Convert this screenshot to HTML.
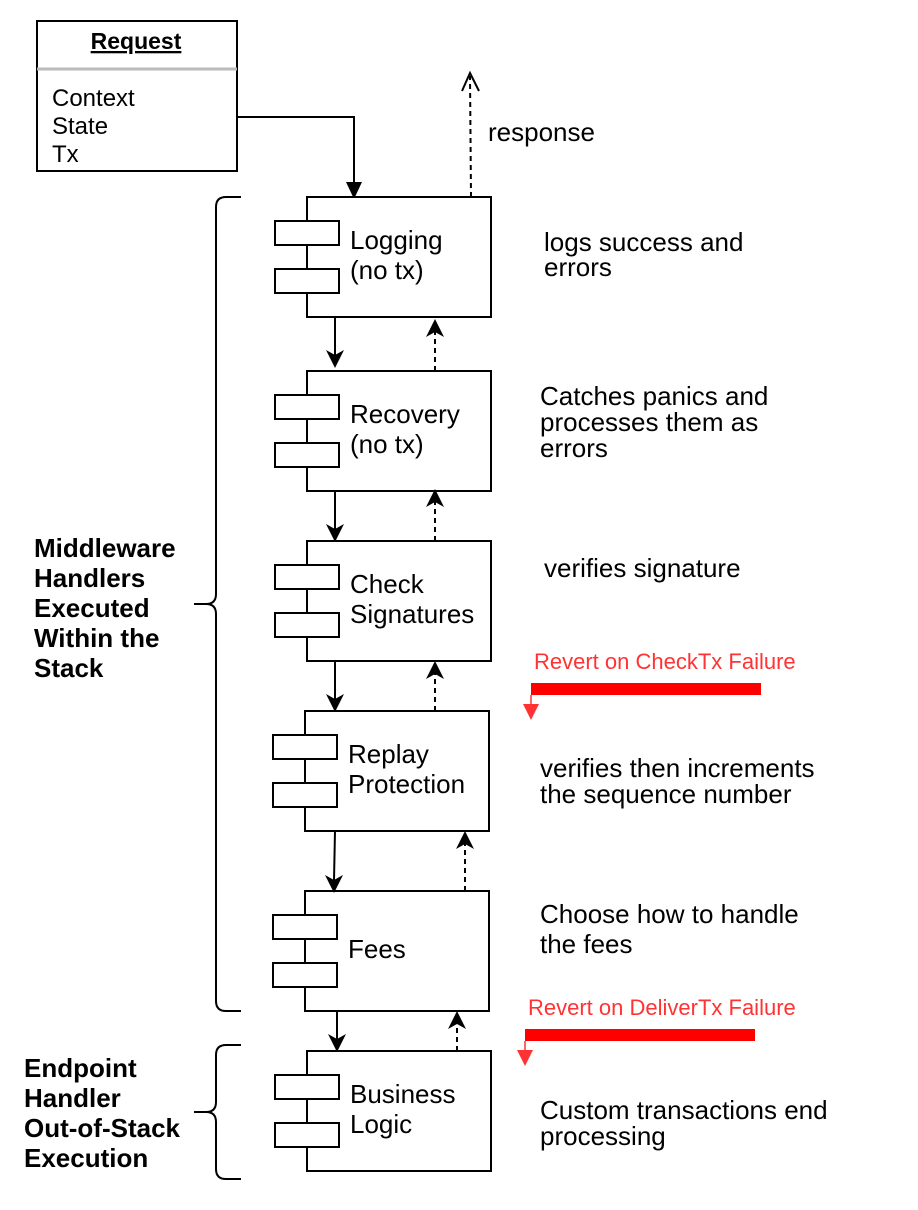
<!DOCTYPE html>
<html><head><meta charset="utf-8"><style>
html,body{margin:0;padding:0;background:#fff;}
svg{display:block;font-family:"Liberation Sans",Arial,sans-serif;}
</style></head><body>
<svg width="918" height="1210" viewBox="0 0 918 1210" xmlns="http://www.w3.org/2000/svg">
<rect width="918" height="1210" fill="#fff"/>
<rect x="37" y="21" width="200" height="150" fill="#fff" stroke="#000" stroke-width="2"/>
<line x1="37" y1="69" x2="237" y2="69" stroke="#bbb" stroke-width="3"/>
<text x="136" y="49" font-size="23" font-weight="bold" text-anchor="middle" text-decoration="underline">Request</text>
<text font-size="24" x="52"><tspan x="52" y="106">Context</tspan><tspan x="52" y="134">State</tspan><tspan x="52" y="162">Tx</tspan></text>
<polyline points="237,117 354,117 354,185" fill="none" stroke="#000" stroke-width="2"/>
<path d="M346,182 L362,182 L354,199 Z" fill="#000"/>
<line x1="471" y1="197" x2="470" y2="76" stroke="#000" stroke-width="2" stroke-dasharray="5,4"/>
<path d="M462,91 L470,73 L479,91" fill="none" stroke="#000" stroke-width="2"/>
<text x="488" y="141" font-size="26">response</text>

<g stroke="#000" stroke-width="2" fill="#fff">
<rect x="307" y="197" width="184" height="120"/><rect x="275" y="221" width="64" height="24"/><rect x="275" y="269" width="64" height="24"/>
<rect x="307" y="371" width="184" height="120"/><rect x="275" y="395" width="64" height="24"/><rect x="275" y="443" width="64" height="24"/>
<rect x="307" y="541" width="184" height="120"/><rect x="275" y="565" width="64" height="24"/><rect x="275" y="613" width="64" height="24"/>
<rect x="305" y="711" width="184" height="120"/><rect x="273" y="735" width="64" height="24"/><rect x="273" y="783" width="64" height="24"/>
<rect x="305" y="891" width="184" height="120"/><rect x="273" y="915" width="64" height="24"/><rect x="273" y="963" width="64" height="24"/>
<rect x="307" y="1051" width="184" height="120"/><rect x="275" y="1075" width="64" height="24"/><rect x="275" y="1123" width="64" height="24"/>
</g>
<g font-size="26">
<text x="350" y="249">Logging</text><text x="350" y="279">(no tx)</text>
<text x="350" y="423">Recovery</text><text x="350" y="453">(no tx)</text>
<text x="350" y="593">Check</text><text x="350" y="623">Signatures</text>
<text x="348" y="763">Replay</text><text x="348" y="793">Protection</text>
<text x="348" y="958">Fees</text>
<text x="350" y="1103">Business</text><text x="350" y="1133">Logic</text>
</g>
<g stroke="#000" stroke-width="2">
<line x1="335" y1="317" x2="335" y2="356"/>
<line x1="335" y1="491" x2="335" y2="530"/>
<line x1="335" y1="661" x2="335" y2="700"/>
<line x1="335" y1="831" x2="334" y2="880"/>
<line x1="337" y1="1011" x2="337" y2="1040"/>
</g>
<g fill="#000">
<path d="M326,350 L335,368 L344,350 L335,355 Z"/>
<path d="M326,524 L335,542 L344,524 L335,529 Z"/>
<path d="M326,694 L335,712 L344,694 L335,699 Z"/>
<path d="M325,875 L334,893 L343,875 L334,880 Z"/>
<path d="M328,1034 L337,1052 L346,1034 L337,1039 Z"/>
</g>
<g stroke="#000" stroke-width="2" stroke-dasharray="5,4">
<line x1="435" y1="371" x2="435" y2="332"/>
<line x1="435" y1="541" x2="435" y2="502"/>
<line x1="435" y1="711" x2="435" y2="674"/>
<line x1="465" y1="891" x2="465" y2="844"/>
<line x1="457" y1="1051" x2="457" y2="1024"/>
</g>
<g fill="#000">
<path d="M426,337 L435,319 L444,337 L435,332 Z"/>
<path d="M426,507 L435,489 L444,507 L435,502 Z"/>
<path d="M426,679 L435,661 L444,679 L435,674 Z"/>
<path d="M456,849 L465,831 L474,849 L465,844 Z"/>
<path d="M448,1029 L457,1011 L466,1029 L457,1024 Z"/>
</g>
<g font-size="26">
<text x="544" y="251">logs success and</text><text x="544" y="276">errors</text>
<text x="540" y="405">Catches panics and</text><text x="540" y="431">processes them as</text><text x="540" y="457">errors</text>
<text x="544" y="577">verifies signature</text>
<text x="540" y="777">verifies then increments</text><text x="540" y="803">the sequence number</text>
<text x="540" y="923">Choose how to handle</text><text x="540" y="953">the fees</text>
<text x="540" y="1119">Custom transactions end</text><text x="540" y="1145">processing</text>
</g>
<g fill="#ff3333" font-size="22">
<text x="534" y="669">Revert on CheckTx Failure</text>
<text x="528" y="1015">Revert on DeliverTx Failure</text>
</g>
<rect x="531" y="683" width="230" height="12" fill="#ff0000"/>
<line x1="531" y1="695" x2="531" y2="706" stroke="#ff3333" stroke-width="1.5"/>
<path d="M523,704 L539,704 L531,720 Z" fill="#ff3333"/>
<rect x="525" y="1029" width="230" height="12" fill="#ff0000"/>
<line x1="525" y1="1041" x2="525" y2="1052" stroke="#ff3333" stroke-width="1.5"/>
<path d="M517,1050 L533,1050 L525,1066 Z" fill="#ff3333"/>
<g fill="none" stroke="#000" stroke-width="2">
<path d="M241,197 L226,197 Q216,197 216,207 L216,594 Q216,604 206,604 L194,604 L206,604 Q216,604 216,614 L216,1001 Q216,1011 226,1011 L241,1011"/>
<path d="M241,1045 L226,1045 Q216,1045 216,1055 L216,1102 Q216,1112 206,1112 L194,1112 L206,1112 Q216,1112 216,1122 L216,1169 Q216,1179 226,1179 L241,1179"/>
</g>
<g font-size="26" font-weight="bold">
<text x="34" y="557">Middleware</text><text x="34" y="587">Handlers</text><text x="34" y="617">Executed</text><text x="34" y="647">Within the</text><text x="34" y="677">Stack</text>
<text x="24" y="1077">Endpoint</text><text x="24" y="1107">Handler</text><text x="24" y="1137">Out-of-Stack</text><text x="24" y="1167">Execution</text>
</g>
</svg>
</body></html>
